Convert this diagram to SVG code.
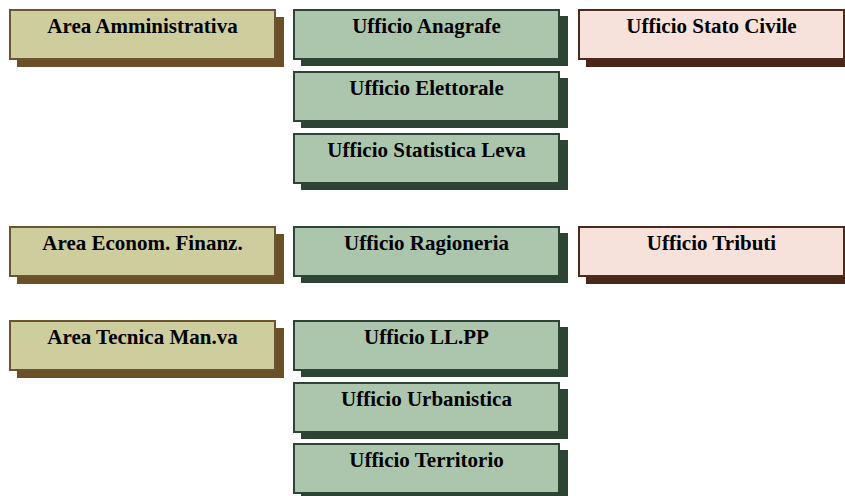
<svg xmlns="http://www.w3.org/2000/svg" width="845" height="496" viewBox="0 0 845 496">
<style>
.t{font-family:"Liberation Serif","Times New Roman",serif;font-weight:bold;font-size:21px;fill:#000;text-anchor:middle}
.ka{fill:#CDCD9E;stroke:#6B5430;stroke-width:2}
.ks{fill:#6A4F27}
.ga{fill:#ABC6AD;stroke:#2E4535;stroke-width:2}
.gs{fill:#2D4434}
.pa{fill:#F7E1DB;stroke:#4E2A1C;stroke-width:2}
.ps{fill:#4A2718}
</style>
<g id="connectors"></g>
<g id="area-amministrativa" transform="translate(9,9)"><rect class="ks" x="8" y="8" width="267" height="50"/><rect class="ka" x="1" y="1" width="265" height="49"/><text class="t" x="133.5" y="24">Area Amministrativa</text></g>
<g id="ufficio-anagrafe" transform="translate(293,9)"><rect class="gs" x="8" y="7" width="267" height="50"/><rect class="ga" x="1" y="1" width="265" height="49"/><text class="t" x="133.5" y="24">Ufficio Anagrafe</text></g>
<g id="ufficio-stato-civile" transform="translate(578,9)"><rect class="ps" x="8" y="8" width="267" height="50"/><rect class="pa" x="1" y="1" width="265" height="49"/><text class="t" x="133.5" y="24">Ufficio Stato Civile</text></g>
<g id="ufficio-elettorale" transform="translate(293,71)"><rect class="gs" x="8" y="7" width="267" height="50"/><rect class="ga" x="1" y="1" width="265" height="49"/><text class="t" x="133.5" y="24">Ufficio Elettorale</text></g>
<g id="ufficio-statistica-leva" transform="translate(293,133)"><rect class="gs" x="8" y="7" width="267" height="50"/><rect class="ga" x="1" y="1" width="265" height="49"/><text class="t" x="133.5" y="24">Ufficio Statistica Leva</text></g>
<g id="area-econom-finanz" transform="translate(9,226)"><rect class="ks" x="8" y="8" width="267" height="50"/><rect class="ka" x="1" y="1" width="265" height="49"/><text class="t" x="133.5" y="24">Area Econom. Finanz.</text></g>
<g id="ufficio-ragioneria" transform="translate(293,226)"><rect class="gs" x="8" y="7" width="267" height="50"/><rect class="ga" x="1" y="1" width="265" height="49"/><text class="t" x="133.5" y="24">Ufficio Ragioneria</text></g>
<g id="ufficio-tributi" transform="translate(578,226)"><rect class="ps" x="8" y="8" width="267" height="50"/><rect class="pa" x="1" y="1" width="265" height="49"/><text class="t" x="133.5" y="24">Ufficio Tributi</text></g>
<g id="area-tecnica" transform="translate(9,320)"><rect class="ks" x="8" y="8" width="267" height="50"/><rect class="ka" x="1" y="1" width="265" height="49"/><text class="t" x="133.5" y="24">Area Tecnica Man.va</text></g>
<g id="ufficio-llpp" transform="translate(293,320)"><rect class="gs" x="8" y="7" width="267" height="50"/><rect class="ga" x="1" y="1" width="265" height="49"/><text class="t" x="133.5" y="24">Ufficio LL.PP</text></g>
<g id="ufficio-urbanistica" transform="translate(293,382)"><rect class="gs" x="8" y="7" width="267" height="50"/><rect class="ga" x="1" y="1" width="265" height="49"/><text class="t" x="133.5" y="24">Ufficio Urbanistica</text></g>
<g id="ufficio-territorio" transform="translate(293,443)"><rect class="gs" x="8" y="7" width="267" height="50"/><rect class="ga" x="1" y="1" width="265" height="49"/><text class="t" x="133.5" y="24">Ufficio Territorio</text></g>
</svg>
